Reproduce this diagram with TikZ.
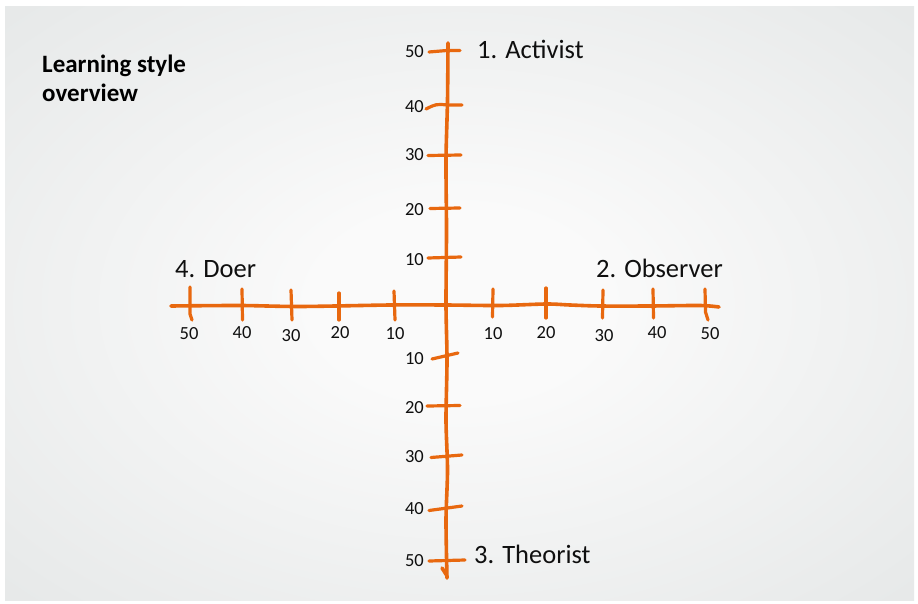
\documentclass[tikz,border=0pt]{standalone}
\usepackage{fontspec}
\setmainfont{Carlito}
\definecolor{axisorange}{RGB}{232,104,15}
\definecolor{bgin}{RGB}{250,250,250}
\definecolor{bgout}{RGB}{207,212,212}
\definecolor{inkgray}{RGB}{15,15,15}
\pgfdeclareradialshading{bgshade}{\pgfpoint{0bp}{0bp}}{color(0bp)=(bgin); color(8bp)=(bgin); color(68bp)=(bgout)}
\begin{document}
\begin{tikzpicture}[x=1pt,y=-1pt,
  axisline/.style={draw=axisorange,line width=3.6pt,line cap=round,line join=round},
  tickmark/.style={draw=axisorange,line width=3.2pt,line cap=round},
  ticklabel/.style={font=\fontsize{18.5}{20}\selectfont,inner sep=0pt,text=inkgray},
  quadlabel/.style={font=\fontsize{26.5}{28}\selectfont,inner sep=0pt,text=inkgray},
  titlelabel/.style={font=\bfseries\fontsize{25}{28}\selectfont,inner sep=0pt,text=black,anchor=base west}]
\useasboundingbox (0,0) rectangle (918,604);
\fill[white] (0,0) rectangle (918,604);
\shade[shading=bgshade] (5,7) rectangle (914,600);

% title
\node[titlelabel] (title1) at (42,73) {Learning style};
\node[titlelabel] (title2) at (42,102) {overview};

% vertical axis
\draw[axisline] plot[smooth] coordinates {(448,43) (447.5,100) (446,160) (446.5,230) (446,305) (447,360) (446,420) (447.5,470) (446,520) (447,578)};
\draw[axisline] (446.5,575) -- (442,568);
% horizontal axis
\draw[axisline] plot[smooth] coordinates {(171,306) (240,305.5) (300,306.5) (390,305) (445,305) (500,305.5) (546,304) (570,305) (600,306) (650,306) (700,305.5) (719,307)};

% vertical ticks (upper)
\draw[tickmark] (429,52) -- (447,50.5) -- (460,50.5);
\draw[tickmark] (426,109) .. controls (436,104) .. (448,105) -- (462,105);
\draw[tickmark] (428,155.5) -- (461,155);
\draw[tickmark] (430,208.5) -- (460,208);
\draw[tickmark] (428,258) -- (461,257);
% vertical ticks (lower)
\draw[tickmark] (432,359) -- (458,353);
\draw[tickmark] (427,406) -- (460,405.5);
\draw[tickmark] (431,457.5) -- (462,455);
\draw[tickmark] (429,510.5) -- (462,506);
\draw[tickmark] (429,561) -- (465,560);

% horizontal ticks
\draw[tickmark] (190,287) -- (190,314) -- (192,320);
\draw[tickmark] (242,289) -- (242.5,320);
\draw[tickmark] (291,290) -- (292,320);
\draw[tickmark] (339,293) -- (339,320);
\draw[tickmark] (394,291) -- (395,320);
\draw[tickmark] (493,289) -- (492.5,317);
\draw[tickmark] (546,288) -- (546,318);
\draw[tickmark] (603,290) -- (602.5,318);
\draw[tickmark] (653,289) -- (653.5,318);
\draw[tickmark] (705,289) -- (705.5,312) -- (708,320);

% vertical tick labels
\node[ticklabel,anchor=base east] (vu50) at (424,58) {50};
\node[ticklabel,anchor=base east] (vu40) at (424,113) {40};
\node[ticklabel,anchor=base east] (vu30) at (424,161) {30};
\node[ticklabel,anchor=base east] (vu20) at (424,215) {20};
\node[ticklabel,anchor=base east] (vu10) at (424,265) {10};
\node[ticklabel,anchor=base east] (vl10) at (424,364) {10};
\node[ticklabel,anchor=base east] (vl20) at (424,413) {20};
\node[ticklabel,anchor=base east] (vl30) at (424,462) {30};
\node[ticklabel,anchor=base east] (vl40) at (424,514) {40};
\node[ticklabel,anchor=base east] (vl50) at (424,566) {50};

% horizontal tick labels
\node[ticklabel,anchor=base] (hl50) at (189,339) {50};
\node[ticklabel,anchor=base] (hl40) at (242,338) {40};
\node[ticklabel,anchor=base] (hl30) at (291,341) {30};
\node[ticklabel,anchor=base] (hl20) at (340,338) {20};
\node[ticklabel,anchor=base] (hl10) at (395,339) {10};
\node[ticklabel,anchor=base] (hr10) at (493,339) {10};
\node[ticklabel,anchor=base] (hr20) at (546,338) {20};
\node[ticklabel,anchor=base] (hr30) at (604,341) {30};
\node[ticklabel,anchor=base] (hr40) at (657,338) {40};
\node[ticklabel,anchor=base] (hr50) at (710,339) {50};

% quadrant labels
\node[quadlabel,anchor=base west] (activist) at (477,59) {1. Activist};
\node[quadlabel,anchor=base east] (observer) at (723,277) {2. Observer};
\node[quadlabel,anchor=base west] (theorist) at (474,563) {3. Theorist};
\node[quadlabel,anchor=base west] (doer) at (175,277) {4. Doer};
\end{tikzpicture}
\end{document}
